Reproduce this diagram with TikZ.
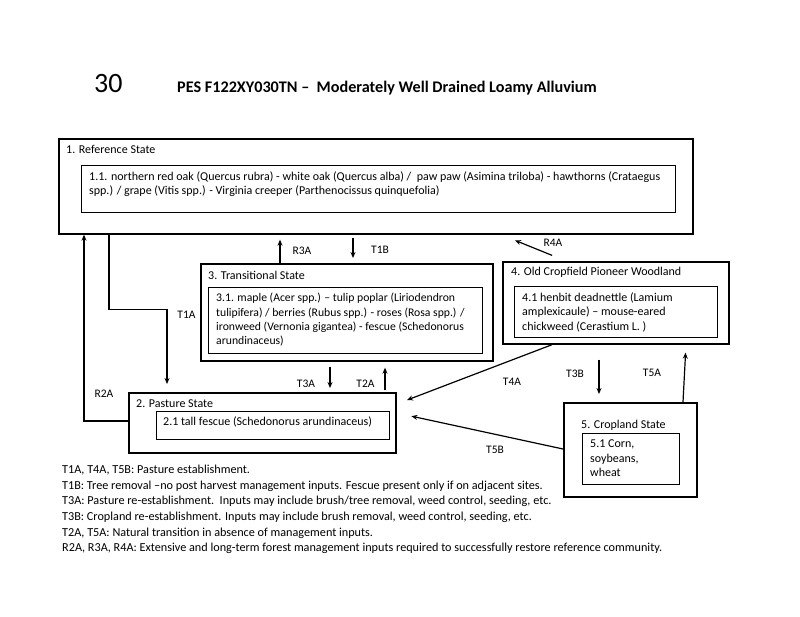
\documentclass[tikz,border=0pt]{standalone}
\usepackage{fontspec}
\setmainfont{Carlito}
\usetikzlibrary{arrows.meta, positioning, calc}

\begin{document}
\begin{tikzpicture}[x=1pt, y=-1pt,
    outerbox/.style={draw, line width=1.7pt, inner sep=0pt, anchor=north west},
    innerbox/.style={draw, line width=1.1pt, inner sep=0pt, anchor=north west},
    txt/.style={inner sep=0pt, anchor=north west, align=left, font=\fontsize{12}{14.4}\selectfont},
    lbl/.style={inner sep=0pt, font=\fontsize{11.5}{13}\selectfont},
    arr/.style={line width=1.2pt, -{Stealth[length=6pt, width=5pt]}},
    link/.style={line width=1.2pt}]
  \useasboundingbox (0,0) rectangle (800,617);

  % heading
  \node[inner sep=0pt, anchor=west, font=\fontsize{28}{30}\selectfont] (num) at (94,84) {30};
  \node[inner sep=0pt, anchor=base west, font=\fontsize{16.2}{18}\selectfont\bfseries] (head) at (177,93)
    {PES F122XY030TN –\ \ Moderately Well Drained Loamy Alluvium};

  % 1. reference state
  \node[outerbox, minimum width=634pt, minimum height=95pt] (ref) at (58,138) {};
  \node[innerbox, minimum width=594pt, minimum height=47pt] (ref in) at (81,165) {};
  \node[txt] (ref lab) at (66,145.5) {1. Reference State};
  \node[txt] (ref txt) at (89,171.5) {1.1. northern red oak (Quercus rubra) - white oak (Quercus alba) /\ \ paw paw (Asimina triloba) - hawthorns (Crataegus\\spp.) / grape (Vitis spp.) - Virginia creeper (Parthenocissus quinquefolia)};

  % 3. transitional state
  \node[outerbox, minimum width=292pt, minimum height=97pt] (trans) at (200,263) {};
  \node[innerbox, minimum width=274pt, minimum height=66pt] (trans in) at (208,287) {};
  \node[txt] (trans lab) at (208,271) {3. Transitional State};
  \node[txt, font=\fontsize{11.7}{14.3}\selectfont] (trans txt) at (216,293) {3.1. maple (Acer spp.) – tulip poplar (Liriodendron\\tulipifera) / berries (Rubus spp.) - roses (Rosa spp.) /\\ironweed (Vernonia gigantea) - fescue (Schedonorus\\arundinaceus)};

  % 4. old cropfield
  \node[outerbox, minimum width=226pt, minimum height=82pt] (old) at (502,261) {};
  \node[innerbox, minimum width=203pt, minimum height=51pt] (old in) at (514,286) {};
  \node[txt] (old lab) at (511,267) {4. Old Cropfield Pioneer Woodland};
  \node[txt] (old txt) at (522,292.5) {4.1 henbit deadnettle (Lamium\\amplexicaule) – mouse-eared\\chickweed (Cerastium L. )};

  % 2. pasture state
  \node[outerbox, minimum width=267pt, minimum height=60pt] (past) at (128,392) {};
  \node[innerbox, minimum width=233pt, minimum height=28pt] (past in) at (156,411) {};
  \node[txt] (past lab) at (136,399.5) {2. Pasture State};
  \node[txt] (past txt) at (163,417) {2.1 tall fescue (Schedonorus arundinaceus)};

  % 5. cropland state
  \node[outerbox, minimum width=133pt, minimum height=94pt] (crop) at (563,402) {};
  \node[innerbox, minimum width=97pt, minimum height=51pt] (crop in) at (582,433) {};
  \node[txt] (crop lab) at (581,419.5) {5. Cropland State};
  \node[txt] (crop txt) at (590,440) {5.1 Corn,\\soybeans,\\wheat};

  % end points of the transitions
  \coordinate (r3a) at ([xshift=80pt]trans.north west);
  \coordinate (t1b) at ([xshift=153pt]trans.north west);
  \coordinate (r4a) at ([xshift=64pt]old.north west);
  \coordinate (r4a end) at ([xshift=443pt]ref.south west);
  \coordinate (t1a) at ([xshift=51pt]ref.south west);
  \coordinate (t1a end) at ([xshift=39pt]past.north west);
  \coordinate (r2a) at ([yshift=-29pt]past.north west);
  \coordinate (r2a end) at ([xshift=26pt]ref.south west);
  \coordinate (t3a) at ([xshift=130pt]trans.south west);
  \coordinate (t2a) at ([xshift=185pt]trans.south west);
  \coordinate (t4a) at ([xshift=50pt]old.south west);
  \coordinate (t4a end) at ([yshift=-12pt]past.north east);
  \coordinate (t5b) at ([yshift=-47pt]crop.north west);
  \coordinate (t5b end) at ([yshift=-21pt]past.north east);
  \coordinate (t3b) at ([xshift=97pt]old.south west);
  \coordinate (t5a) at ([xshift=120pt]crop.north west);
  \coordinate (t5a end) at ([xshift=184pt]old.south west);

  % transitions
  \draw[arr, shorten >=5pt] (r3a) -- (r3a |- ref.south);
  \draw[arr, shorten <=3pt, shorten >=5pt] (t1b |- ref.south) -- (t1b);
  \draw[arr, shorten <=15pt, shorten >=15pt] (r4a) -- (r4a end);
  \draw[arr, shorten >=8pt] (t1a) |- ++(0,75) -| (t1a end);
  \draw[arr] (r2a) -| (r2a end);
  \draw[arr, shorten <=5pt, shorten >=4pt] (t3a) -- (t3a |- past.north);
  \draw[arr, shorten <=2pt, shorten >=6pt] (t2a |- past.north) -- (t2a);
  \draw[arr, shorten >=11pt] (t4a) -- (t4a end);
  \draw[arr, shorten >=15pt] (t5b) -- (t5b end);
  \draw[arr, shorten <=15pt, shorten >=8pt] (t3b) -- (t3b |- crop.north);
  \draw[arr, shorten >=8pt] (t5a) -- (t5a end);

  % transition labels
  \node[lbl] (r3a lab) at (302,250.5) {R3A};
  \node[lbl] (t1b lab) at (380,250) {T1B};
  \node[lbl] (r4a lab) at (553,242.5) {R4A};
  \node[lbl] (t1a lab) at (186.5,315) {T1A};
  \node[lbl] (r2a lab) at (104,394) {R2A};
  \node[lbl] (t3a lab) at (306,384) {T3A};
  \node[lbl] (t2a lab) at (365.5,384) {T2A};
  \node[lbl] (t4a lab) at (512,382) {T4A};
  \node[lbl] (t3b lab) at (575,374) {T3B};
  \node[lbl] (t5a lab) at (652,373) {T5A};
  \node[lbl] (t5b lab) at (495,450) {T5B};

  % key
  \node[txt, font=\fontsize{12.2}{15.6}\selectfont] (key) at (62,465) {T1A, T4A, T5B: Pasture establishment.\\
    T1B: Tree removal –no post harvest management inputs. Fescue present only if on adjacent sites.\\
    T3A: Pasture re-establishment.\ \ Inputs may include brush/tree removal, weed control, seeding, etc.\\
    T3B: Cropland re-establishment. Inputs may include brush removal, weed control, seeding, etc.\\
    T2A, T5A: Natural transition in absence of management inputs.\\
    R2A, R3A, R4A: Extensive and long-term forest management inputs required to successfully restore reference community.};
\end{tikzpicture}
\end{document}
